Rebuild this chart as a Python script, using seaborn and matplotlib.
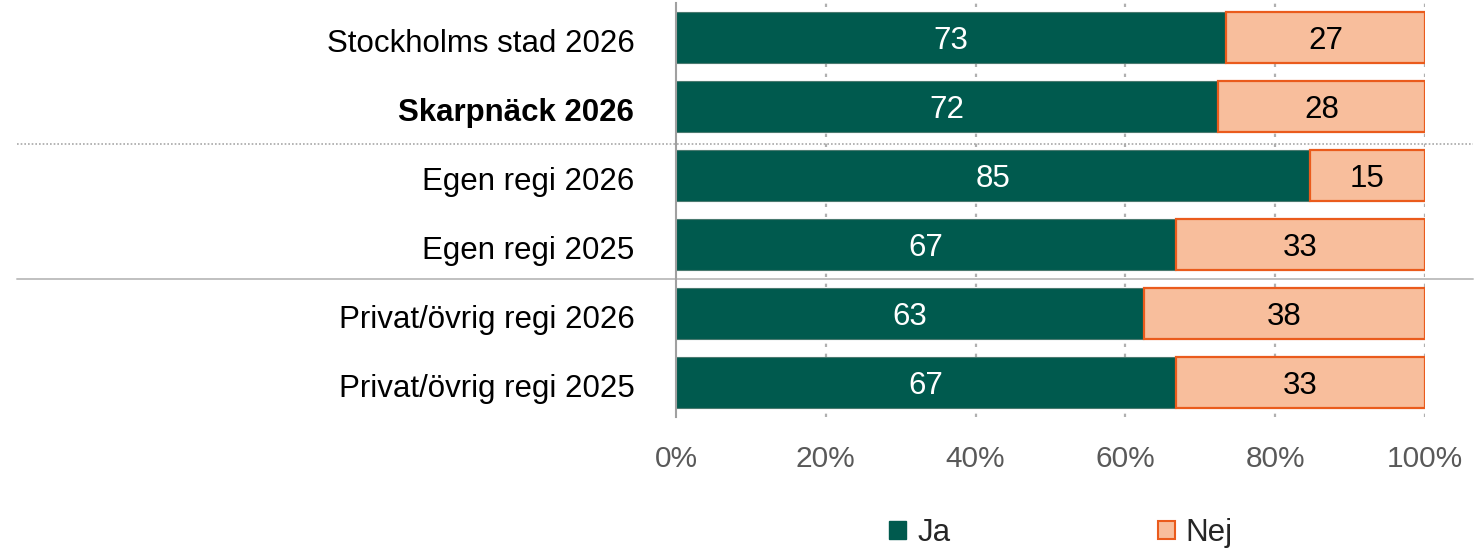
import matplotlib
matplotlib.use("Agg")
import matplotlib.pyplot as plt
import matplotlib.transforms as mtransforms
from matplotlib.patches import Patch
import seaborn as sns
import pandas as pd

categories = ["Stockholms stad 2026", "Skarpnäck 2026", "Egen regi 2026",
              "Egen regi 2025", "Privat/övrig regi 2026", "Privat/övrig regi 2025"]
ja_share = [73.4, 72.4, 84.6, 66.7, 62.5, 66.7]
nej_share = [26.6, 27.6, 15.4, 33.3, 37.5, 33.3]
ja_labels = ["73", "72", "85", "67", "63", "67"]
nej_labels = ["27", "28", "15", "33", "38", "33"]
x_ticks = [0, 20, 40, 60, 80, 100]
x_ticklabels = ["0%", "20%", "40%", "60%", "80%", "100%"]
series_names = ["Ja", "Nej"]

GREEN = "#005a4e"
PEACH = "#f8be9c"
ORANGE = "#ea5b1c"
FS = 22.5

sns.set_theme(style="white")
plt.rcParams["font.family"] = ["Liberation Sans", "DejaVu Sans"]

df = pd.DataFrame({"cat": categories, "ja": ja_share, "nej": nej_share})

fig = plt.figure(figsize=(14.78, 5.51), dpi=100)
ax = fig.add_axes([676 / 1478, 1 - 417 / 551, (1425 - 676) / 1478, (417 - 3) / 551])

bar_h = 0.74
sns.barplot(data=df, y="cat", x="ja", orient="h", color=GREEN, width=bar_h,
            saturation=1, ax=ax, edgecolor="#4a7a70", linewidth=0.8, zorder=3)
ax.barh(range(len(categories)), nej_share, left=ja_share, height=bar_h,
        color=PEACH, edgecolor=ORANGE, linewidth=1.6, zorder=3)

for i in range(len(categories)):
    ax.text(ja_share[i] / 2, i, ja_labels[i], ha="center", va="center_baseline",
            color="white", fontsize=FS, zorder=5)
    ax.text(ja_share[i] + nej_share[i] / 2, i, nej_labels[i], ha="center",
            va="center_baseline", color="black", fontsize=FS, zorder=5)

ax.set_xlim(0, 100)
ax.set_ylim(len(categories) - 0.5, -0.5)
ax.set_xticks(x_ticks)
ax.set_xticklabels(x_ticklabels, fontsize=21.5, color="#595959")
ax.tick_params(axis="x", length=0, pad=20)
ax.tick_params(axis="y", length=0, pad=30)
ax.set_yticks(range(len(categories)))
ax.set_yticklabels(categories, fontsize=FS, color="black")
ylabs = ax.get_yticklabels()
ylabs[1].set_fontweight("bold")
down = mtransforms.ScaledTranslation(0, -3 / 100, fig.dpi_scale_trans)
for lab in ylabs:
    lab.set_verticalalignment("center_baseline")
    lab.set_transform(lab.get_transform() + down)
ax.set_xlabel("")
ax.set_ylabel("")

for x in x_ticks[1:]:
    ax.axvline(x, color="#b0b0b0", linestyle=(0, (1.5, 3)), linewidth=1.6, zorder=1)

for s in ["top", "right", "bottom"]:
    ax.spines[s].set_visible(False)
ax.spines["left"].set_color("#a0a0a0")
ax.spines["left"].set_linewidth(1.5)
ax.spines["left"].set_zorder(6)

trans = mtransforms.blended_transform_factory(fig.transFigure, ax.transData)
shift = mtransforms.ScaledTranslation(0, -2.5 / 100, fig.dpi_scale_trans)
ax.plot([17 / 1478, 1473 / 1478], [1.5, 1.5], transform=trans + shift, clip_on=False,
        color="#a8a8a8", linewidth=1.2, linestyle=(0, (1, 1.2)), zorder=2)
ax.plot([17 / 1478, 1473 / 1478], [3.5, 3.5], transform=trans, clip_on=False,
        color="#c0c0c0", linewidth=1.4, linestyle="-", zorder=2)

handles = [Patch(facecolor=GREEN, edgecolor=GREEN, label=series_names[0]),
           Patch(facecolor=PEACH, edgecolor=ORANGE, linewidth=1.5, label=series_names[1])]
fig.legend(handles=handles, loc="center", bbox_to_anchor=(1061 / 1478, 1 - 533 / 551),
           ncol=2, frameon=False, fontsize=FS, handlelength=0.55, handleheight=0.55,
           handletextpad=0.35, columnspacing=6.64, borderpad=0, borderaxespad=0)

fig.savefig("out.png", dpi=100, facecolor="white")
